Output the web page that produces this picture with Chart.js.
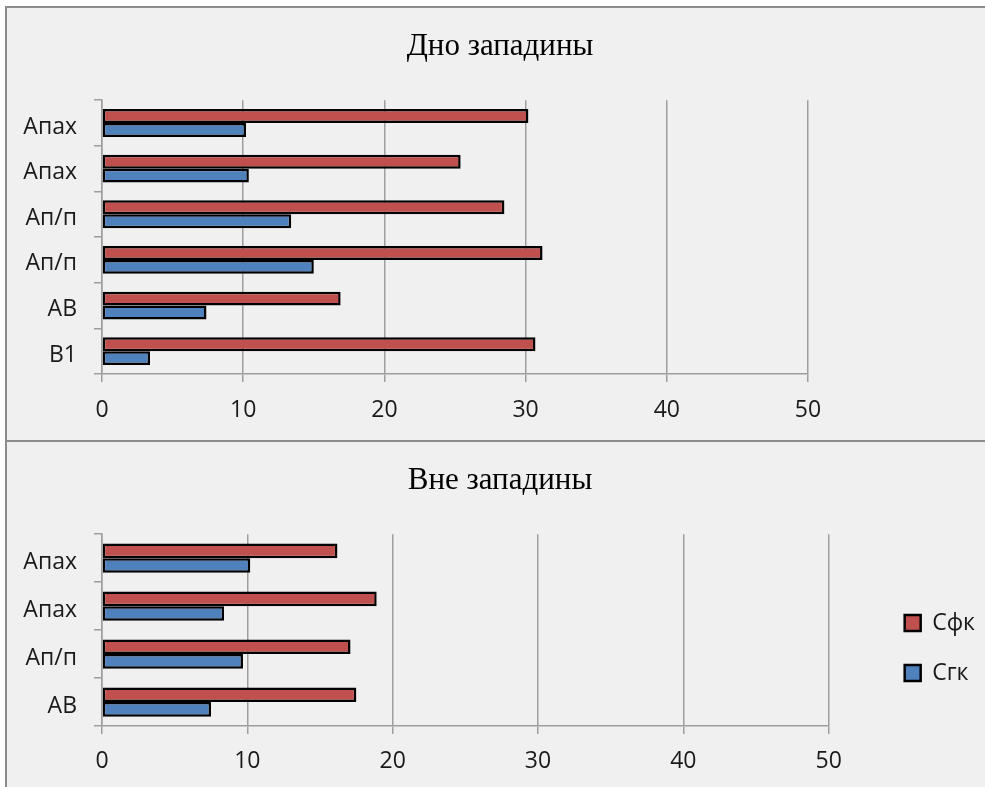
<!DOCTYPE html>
<html>
<head>
<meta charset="utf-8">
<script src="https://cdn.jsdelivr.net/npm/chart.js@4.4.1/dist/chart.umd.min.js"></script>
<style>
  html, body { margin: 0; padding: 0; background: #ffffff; width: 985px; height: 787px; overflow: hidden; }
  #panel { position: absolute; left: 5px; top: 6px; width: 1000px; height: 800px; background: #f0f0f0;
           border-left: 2px solid #8c8c8c; border-top: 2px solid #8c8c8c; }
  #sep { position: absolute; left: 5px; top: 440px; width: 1000px; height: 2px; background: #8c8c8c; }
  canvas { position: absolute; left: 0; }
  #c1 { top: 0; }
  #c2 { top: 442px; }
</style>
</head>
<body>
<div id="panel"></div>
<div id="sep"></div>
<canvas id="c1" width="985" height="440"></canvas>
<canvas id="c2" width="985" height="412"></canvas>
<script>
// ---- data ----
const seriesNames = ['Сфк', 'Сгк'];
const topTitle = 'Дно западины';
const topCategories = ['Апах', 'Апах', 'Ап/п', 'Ап/п', 'АВ', 'В1'];
const topSfk = [30.2, 25.4, 28.5, 31.2, 16.9, 30.7];
const topSgk = [10.2, 10.4, 13.4, 15.0, 7.4, 3.4];
const bottomTitle = 'Вне западины';
const bottomCategories = ['Апах', 'Апах', 'Ап/п', 'АВ'];
const bottomSfk = [16.2, 18.9, 17.1, 17.5];
const bottomSgk = [10.2, 8.4, 9.7, 7.5];
const xTicks = [0, 10, 20, 30, 40, 50];

// ---- styles ----
const RED = '#c0504d', BLUE = '#4f81bd';
const GRID = '#9e9e9e';
const TXT = '#1a1a1a';
const LBL_FONT = { family: '"Open Sans", "Noto Sans", sans-serif', size: 23 };

function makeChart(canvasId, cfg) {
  return new Chart(document.getElementById(canvasId), {
    type: 'bar',
    data: {
      labels: cfg.categories,
      datasets: [
        { label: seriesNames[0], data: cfg.sfk, backgroundColor: RED, borderColor: '#000', borderWidth: 2.5,
          borderSkipped: false, categoryPercentage: 0.61, barPercentage: 1.0 },
        { label: seriesNames[1], data: cfg.sgk, backgroundColor: BLUE, borderColor: '#000', borderWidth: 2.5,
          borderSkipped: false, categoryPercentage: 0.61, barPercentage: 1.0 }
      ]
    },
    options: {
      indexAxis: 'y',
      responsive: false,
      animation: false,
      devicePixelRatio: 1,
      layout: { padding: { left: 15, right: cfg.padRight, top: 0, bottom: 0 } },
      plugins: {
        title: {
          display: true, text: cfg.title, color: '#000',
          font: { family: '"Liberation Serif", "Times New Roman", serif', size: 31, weight: 'normal', lineHeight: 1.2 },
          padding: { top: cfg.titleTop, bottom: cfg.titleBottom }
        },
        legend: {
          display: cfg.legend,
          position: 'right',
          align: 'center',
          labels: { boxWidth: 16, boxHeight: 16, padding: 27, color: TXT, font: LBL_FONT }
        },
        tooltip: { enabled: false }
      },
      scales: {
        x: {
          type: 'linear', position: 'bottom', min: 0, max: 50,
          afterBuildTicks: s => { s.ticks = xTicks.map(v => ({ value: v })); },
          ticks: { color: TXT, font: LBL_FONT, padding: cfg.xPad, maxRotation: 0 },
          grid: { display: true, color: GRID, lineWidth: 1.5, tickLength: 8, drawTicks: true },
          border: { display: true, color: GRID, width: 1.5 },
          afterFit: s => { s.height = cfg.xHeight; }
        },
        y: {
          type: 'category', position: 'left', offset: true,
          ticks: { color: TXT, font: LBL_FONT, padding: 17, labelOffset: 4 },
          grid: { display: true, offset: true, drawOnChartArea: false, drawTicks: true, tickLength: 8, color: GRID, lineWidth: 1.5 },
          border: { display: true, color: GRID, width: 1.5 },
          afterFit: s => { s.width = 87; }
        },
        spacer: {
          type: 'linear', position: 'right', display: true,
          ticks: { display: false }, grid: { display: false }, border: { display: false },
          afterFit: s => { s.width = cfg.spacer; }
        }
      }
    }
  });
}

makeChart('c1', {
  title: topTitle, categories: topCategories, sfk: topSfk, sgk: topSgk,
  legend: false, padRight: 0, titleTop: 28, titleBottom: 35,
  xHeight: 66, xPad: 15, spacer: 177
});

makeChart('c2', {
  title: bottomTitle, categories: bottomCategories, sfk: bottomSfk, sgk: bottomSgk,
  legend: true, padRight: 0, titleTop: 20, titleBottom: 35,
  xHeight: 128, xPad: 14, spacer: 49
});
</script>
</body>
</html>
